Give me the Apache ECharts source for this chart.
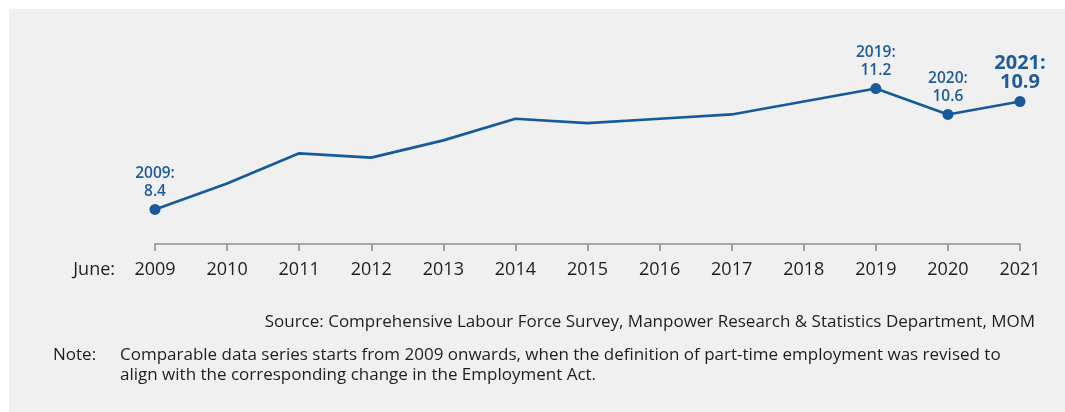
<!DOCTYPE html>
<html>
<head>
<meta charset="utf-8">
<script src="https://cdn.jsdelivr.net/npm/echarts@6/dist/echarts.min.js"></script>
<style>
html,body{margin:0;padding:0;background:#ffffff;}
#chart{width:1065px;height:412px;}
</style>
</head>
<body>
<div id="chart"></div>
<script>
// Data
const years = ['2009','2010','2011','2012','2013','2014','2015','2016','2017','2018','2019','2020','2021'];
const values = [8.4, 9.0, 9.7, 9.6, 10.0, 10.5, 10.4, 10.5, 10.6, 10.9, 11.2, 10.6, 10.9];
const labelledYears = ['2009','2019','2020','2021'];
const highlightYear = '2021';
const axisPrefix = 'June:';
const sourceText = 'Source: Comprehensive Labour Force Survey, Manpower Research & Statistics Department, MOM';
const noteLabel = 'Note:';
const noteLines = [
  'Comparable data series starts from 2009 onwards, when the definition of part-time employment was revised to',
  'align with the corresponding change in the Employment Act.'
];

const FONT = '"Open Sans", "Noto Sans", sans-serif';
const BLUE = '#175a9c';
const LABEL_BLUE = '#1f5b9b';
const TEXT = '#1e1e1e';

const seriesData = values.map((v, i) => {
  const y = years[i];
  const labelled = labelledYears.includes(y);
  const big = y === highlightYear;
  return {
    value: v,
    symbolSize: labelled ? 11 : 0,
    label: {
      show: labelled,
      position: 'top',
      distance: 4,
      color: LABEL_BLUE,
      fontFamily: FONT,
      fontWeight: big ? 'bold' : 600,
      fontSize: big ? 20 : 15.5,
      lineHeight: big ? 19 : 17.5,
      align: 'center',
      formatter: (p) => p.name + ':\n' + p.value.toFixed(1)
    }
  };
});

const chart = echarts.init(document.getElementById('chart'), null, {renderer: 'canvas'});
chart.setOption({
  backgroundColor: '#ffffff',
  animation: false,
  textStyle: {fontFamily: FONT},
  graphic: [
    {type: 'rect', z: -10, shape: {x: 9, y: 9, width: 1056, height: 403}, style: {fill: '#f0f0f0'}},
    {type: 'text', x: 115, y: 270, style: {text: axisPrefix, fill: TEXT, font: '18px ' + FONT, textAlign: 'right', textVerticalAlign: 'middle'}},
    {type: 'text', x: 1035, y: 322, style: {text: sourceText, fill: TEXT, font: '17px ' + FONT, textAlign: 'right', textVerticalAlign: 'middle'}},
    {type: 'text', x: 53, y: 355, style: {text: noteLabel, fill: TEXT, font: '17px ' + FONT, textAlign: 'left', textVerticalAlign: 'middle'}},
    {type: 'text', x: 120, y: 355, style: {text: noteLines[0], fill: TEXT, font: '17px ' + FONT, textAlign: 'left', textVerticalAlign: 'middle'}},
    {type: 'text', x: 120, y: 375, style: {text: noteLines[1], fill: TEXT, font: '17px ' + FONT, textAlign: 'left', textVerticalAlign: 'middle'}}
  ],
  grid: {left: 155, right: 45, top: 54, bottom: 168, containLabel: false},
  xAxis: {
    type: 'category',
    data: years,
    boundaryGap: false,
    axisLine: {show: true, lineStyle: {color: '#8e8e8e', width: 1.5}},
    axisTick: {show: true, length: 7, alignWithLabel: true, lineStyle: {color: '#8e8e8e', width: 1.5}},
    axisLabel: {color: TEXT, fontSize: 18, fontFamily: FONT, margin: 17, interval: 0},
    splitLine: {show: false}
  },
  yAxis: {
    type: 'value',
    min: 7.6,
    max: 12,
    show: false,
    splitLine: {show: false}
  },
  series: [{
    type: 'line',
    data: seriesData,
    symbol: 'circle',
    showAllSymbol: true,
    lineStyle: {color: BLUE, width: 2.7},
    itemStyle: {color: BLUE},
    emphasis: {disabled: true}
  }]
});
</script>
</body>
</html>
